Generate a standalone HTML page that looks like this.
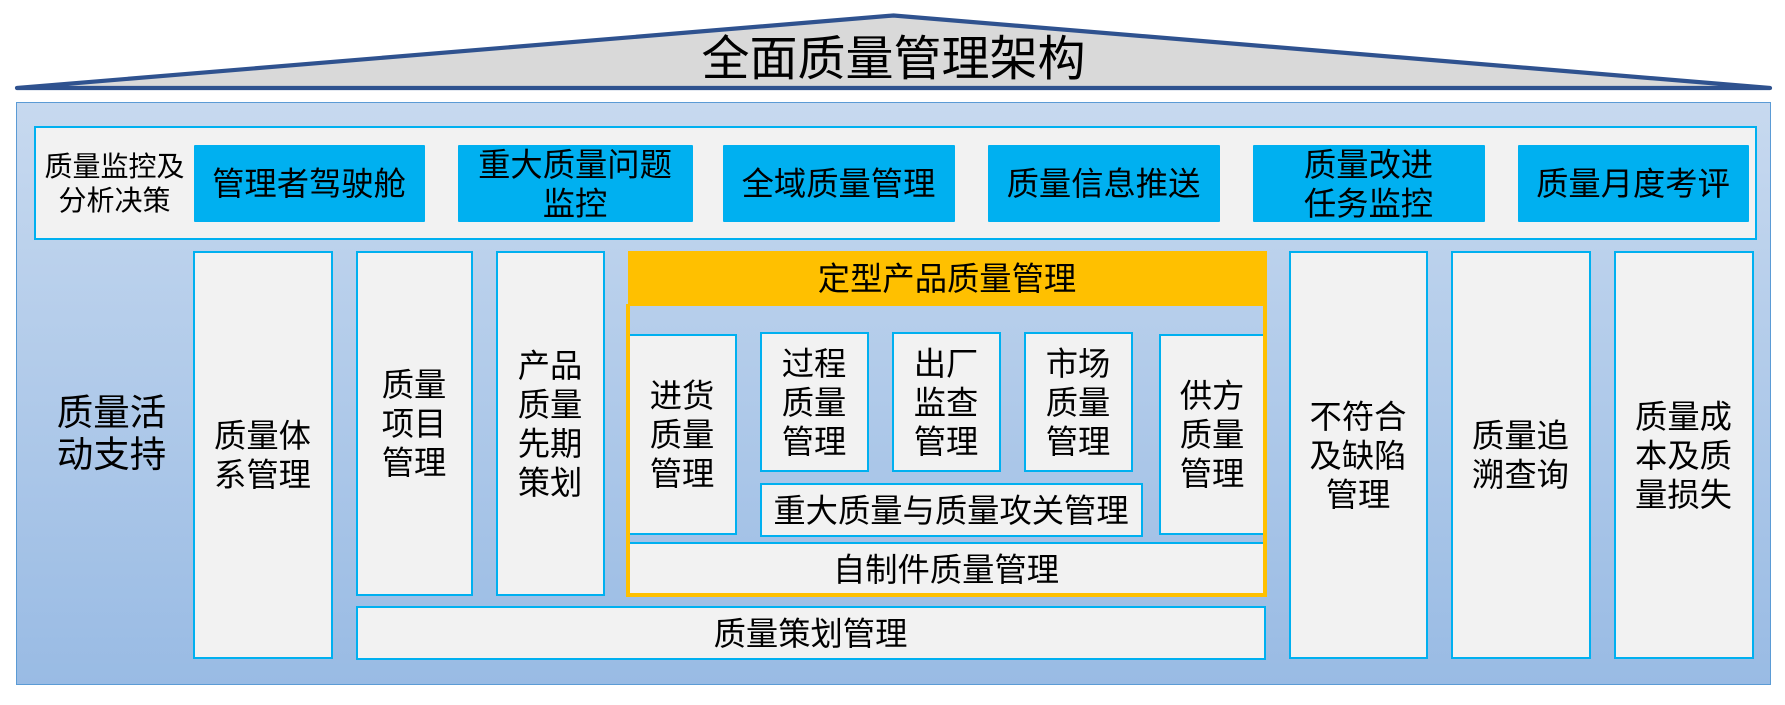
<!DOCTYPE html>
<html lang="zh"><head><meta charset="utf-8"><style>
html,body{margin:0;padding:0;background:#fff}
body{position:relative;width:1785px;height:705px;overflow:hidden;font-family:"Liberation Sans","Noto Sans CJK SC",sans-serif;color:#000}
.a{position:absolute;box-sizing:border-box;display:flex;align-items:center;justify-content:center;text-align:center;font-size:32.3px;line-height:39px;white-space:pre-line;padding-top:2px;padding-right:1px}
.b{background:#f2f2f2;border:2px solid #00b0f0}
.c{background:#00b0f0;border-radius:1px}
</style></head><body>
<svg style="position:absolute;left:0;top:0" width="1785" height="705"><polygon points="17,88 893.5,15.5 1770,88" fill="#d9d9d9" stroke="#2f528f" stroke-width="4.2" stroke-linejoin="round" stroke-linecap="round"/></svg>
<div class="a" style="left:600px;top:29px;width:588px;height:60px;font-size:48px;line-height:60px">全面质量管理架构</div>
<div class="a" style="left:16px;top:102px;width:1755px;height:583px;border:1.5px solid #5b9bd5;background:linear-gradient(#c7d9ef,#99bbe4)"></div>
<div class="a b" style="left:34px;top:126px;width:1723px;height:114px"></div>
<div class="a" style="left:35px;top:149px;width:160px;height:68px;font-size:28px;line-height:34px">质量监控及
分析决策</div>
<div class="a c" style="left:194px;top:145px;width:231px;height:77px">管理者驾驶舱</div>
<div class="a c" style="left:458px;top:145px;width:235px;height:77px">重大质量问题
监控</div>
<div class="a c" style="left:723px;top:145px;width:232px;height:77px">全域质量管理</div>
<div class="a c" style="left:988px;top:145px;width:232px;height:77px">质量信息推送</div>
<div class="a c" style="left:1253px;top:145px;width:232px;height:77px">质量改进
任务监控</div>
<div class="a c" style="left:1518px;top:145px;width:231px;height:77px">质量月度考评</div>
<div class="a" style="left:40px;top:390px;width:144px;height:84px;font-size:36.5px;line-height:42px;padding-top:4px">质量活
动支持</div>
<div class="a b" style="left:193px;top:251px;width:140px;height:408px">质量体
系管理</div>
<div class="a b" style="left:356px;top:251px;width:117px;height:345px">质量
项目
管理</div>
<div class="a b" style="left:496px;top:251px;width:109px;height:345px">产品
质量
先期
策划</div>
<div class="a b" style="left:356px;top:606px;width:910px;height:54px">质量策划管理</div>
<div class="a" style="left:628px;top:251px;width:639px;height:55px;background:#ffc000">定型产品质量管理</div>
<div class="a b" style="left:628px;top:334px;width:109px;height:201px">进货
质量
管理</div>
<div class="a b" style="left:760px;top:332px;width:109px;height:140px">过程
质量
管理</div>
<div class="a b" style="left:892px;top:332px;width:109px;height:140px">出厂
监查
管理</div>
<div class="a b" style="left:1024px;top:332px;width:109px;height:140px">市场
质量
管理</div>
<div class="a b" style="left:760px;top:483px;width:383px;height:54px">重大质量与质量攻关管理</div>
<div class="a b" style="left:1159px;top:334px;width:107px;height:201px">供方
质量
管理</div>
<div class="a b" style="left:628px;top:542px;width:637px;height:54px">自制件质量管理</div>
<div class="a" style="left:626px;top:304px;width:641px;height:293px;border:4px solid #ffc000;border-top:none"></div>
<div class="a b" style="left:1289px;top:251px;width:139px;height:408px">不符合
及缺陷
管理</div>
<div class="a b" style="left:1451px;top:251px;width:140px;height:408px">质量追
溯查询</div>
<div class="a b" style="left:1614px;top:251px;width:140px;height:408px">质量成
本及质
量损失</div>
</body></html>
